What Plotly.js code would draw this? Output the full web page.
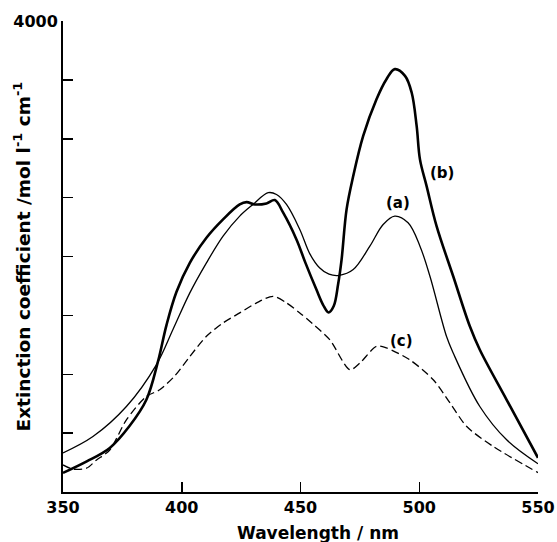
<!DOCTYPE html>
<html>
<head>
<meta charset="utf-8">
<script src="https://cdn.plot.ly/plotly-3.0.1.min.js"></script>
<style>html,body{margin:0;padding:0;background:#fff;}#chart{width:557px;height:542px;}</style>
</head>
<body>
<div id="chart"></div>
<script>
// Curve (a): thin solid
const wlA = [350, 362.6, 376.7, 389.3, 396.3, 403.4, 410.4, 417.4, 424.4, 430, 436.4, 439.9, 444.1, 449.7, 454, 458, 462, 466.4, 472.2, 479.2, 484.8, 489.7, 495.3, 500.3, 504.5, 511.5, 514.3, 525.5, 536.8, 550];
const epsA = [332, 471, 726, 1080, 1380, 1691, 1946, 2173, 2343, 2442, 2542, 2527, 2442, 2230, 2020, 1905, 1850, 1840, 1889, 2088, 2272, 2343, 2286, 2088, 1832, 1320, 1180, 726, 443, 240];

// Curve (b): thick solid
const wlB = [350, 360, 369.7, 378, 385.1, 390, 393.6, 397.8, 403.4, 410.4, 417.4, 424.4, 427.3, 430.8, 435.7, 439.2, 442.7, 448.3, 452, 456.7, 459.5, 461.8, 464, 465.8, 467.3, 469.4, 472.2, 476.4, 482, 486.2, 489.7, 494, 496.8, 498.9, 500.3, 503.1, 507.3, 514.3, 521.3, 525.5, 536.8, 550];
const epsB = [162, 260, 374, 560, 783, 1109, 1420, 1700, 1946, 2159, 2315, 2442, 2462, 2442, 2451, 2479, 2372, 2145, 1950, 1719, 1590, 1525, 1580, 1760, 1974, 2400, 2683, 3024, 3336, 3506, 3591, 3534, 3393, 3109, 2825, 2598, 2258, 1832, 1407, 1208, 783, 290];

// Curve (c): dashed
const wlC = [350, 354, 359.9, 364, 369.7, 376.7, 385.1, 390.7, 397, 403.4, 410.4, 417.4, 424.4, 431.5, 438.5, 444.1, 449.7, 455, 462.3, 470.8, 475, 482, 486.2, 496, 505.9, 513, 520, 531.2, 550];
const epsC = [230, 195, 202, 270, 357, 613, 811, 868, 985, 1151, 1322, 1436, 1521, 1606, 1662, 1606, 1521, 1430, 1294, 1038, 1095, 1237, 1223, 1123, 953, 755, 556, 386, 165];

// Axis ticks
const xTicks = [350, 400, 450, 500, 550];
const yLabelTicks = [4000];
const yMinorStep = 500;

// Curve labels
const labelText = ['(a)', '(b)', '(c)'];
const labelX = [491, 509.4, 492.5];
const labelY = [2456, 2712, 1279];

const tickFont = {family: 'DejaVu Sans, sans-serif', size: 16, color: '#000', weight: 'bold'};
const labelFont = {family: 'DejaVu Sans, sans-serif', size: 15, color: '#000', weight: 'bold'};
const titleFont = {family: 'DejaVu Sans, sans-serif', size: 17, color: '#000', weight: 'bold'};
const yTitleFont = {family: 'DejaVu Sans, sans-serif', size: 18.5, color: '#000', weight: 'bold'};

const traces = [
  {x: wlA, y: epsA, mode: 'lines', name: '(a)', line: {color: '#000', width: 1.3, shape: 'spline', smoothing: 1}},
  {x: wlB, y: epsB, mode: 'lines', name: '(b)', line: {color: '#000', width: 2.6, shape: 'spline', smoothing: 1}},
  {x: wlC, y: epsC, mode: 'lines', name: '(c)', line: {color: '#000', width: 1.3, dash: '8px,4px', shape: 'spline', smoothing: 0.8}}
];

const annotations = labelText.map((t, i) => ({
  x: labelX[i], y: labelY[i], xref: 'x', yref: 'y', text: t, showarrow: false,
  font: labelFont, xanchor: 'center', yanchor: 'middle'
}));
annotations.push({
  xref: 'paper', yref: 'paper', x: (22 - 63) / 475, y: 0.5,
  text: 'Extinction coefficient /mol l<sup>-1</sup> cm<sup>-1</sup>',
  textangle: -90, showarrow: false, font: yTitleFont, xanchor: 'center', yanchor: 'middle'
});
annotations.push({
  xref: 'paper', yref: 'paper', x: (318 - 63) / 475, y: -(533 - 492) / 471,
  text: 'Wavelength / nm', showarrow: false, font: titleFont, xanchor: 'center', yanchor: 'middle'
});

const layout = {
  width: 557, height: 542,
  margin: {l: 63, r: 19, t: 21, b: 50, pad: 0},
  paper_bgcolor: '#fff', plot_bgcolor: '#fff',
  showlegend: false,
  font: tickFont,
  xaxis: {
    range: [350, 550], tickvals: xTicks, ticktext: xTicks.map(String),
    ticks: 'inside', ticklen: 10, tickwidth: 1.5, tickcolor: '#000',
    showline: true, linecolor: '#000', linewidth: 2, showgrid: false, zeroline: false,
    tickfont: tickFont
  },
  yaxis: {
    range: [0, 4000], tickvals: yLabelTicks, ticktext: yLabelTicks.map(String),
    ticks: 'inside', ticklen: 10, tickwidth: 1.5, tickcolor: '#000',
    minor: {dtick: yMinorStep, tick0: 0, ticks: 'inside', ticklen: 10, tickwidth: 1.5, tickcolor: '#000', showgrid: false},
    showline: true, linecolor: '#000', linewidth: 2, showgrid: false, zeroline: false,
    tickfont: tickFont
  },
  annotations: annotations
};

Plotly.newPlot('chart', traces, layout, {displayModeBar: false, staticPlot: true});
</script>
</body>
</html>
